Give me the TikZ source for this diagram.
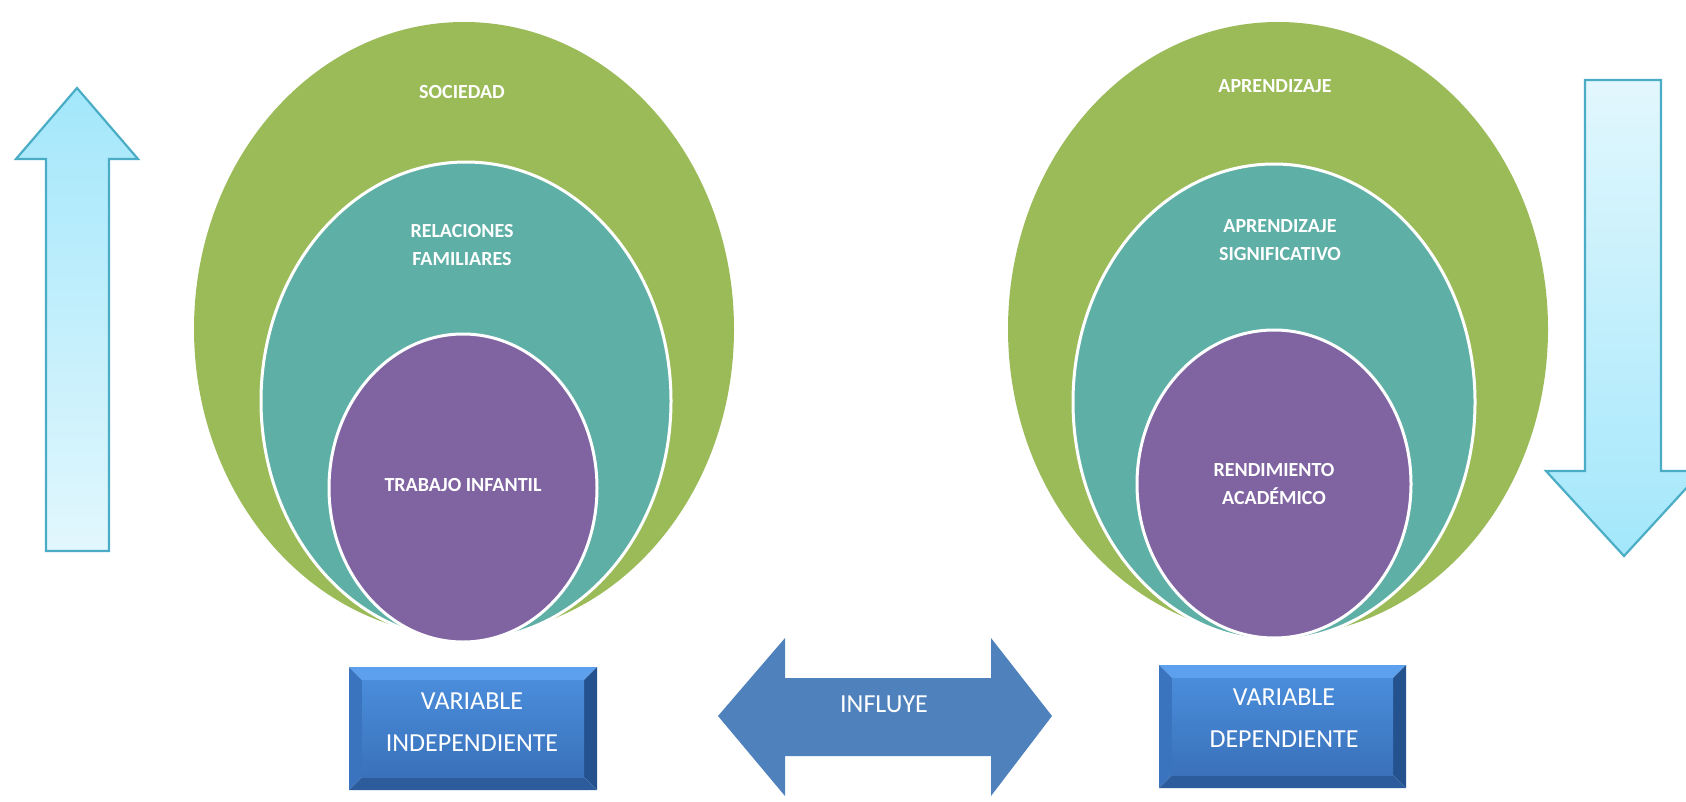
\documentclass[tikz,border=0pt]{standalone}
\usepackage{fontspec}
\setmainfont{Carlito}
\usepackage{xcolor}
\usepackage{tikz}
\definecolor{vennGreen}{HTML}{9BBB59}
\definecolor{vennTeal}{HTML}{5EAFA6}
\definecolor{vennPurple}{HTML}{8064A2}
\definecolor{arrowEdge}{HTML}{4BACC6}
\definecolor{arrowDark}{HTML}{A3E7FB}
\definecolor{arrowLight}{HTML}{E2F7FD}
\definecolor{bevelTop}{HTML}{5CA0EE}
\definecolor{bevelLeft}{HTML}{3B74BE}
\definecolor{bevelRight}{HTML}{24528F}
\definecolor{bevelBottom}{HTML}{2C5C9C}
\definecolor{faceTop}{HTML}{4A8DDB}
\definecolor{faceBottom}{HTML}{3A71BA}
\definecolor{influyeBlue}{HTML}{4F81BD}

\begin{document}
\begin{tikzpicture}[x=0.5pt,y=0.5pt,
	vennlabel/.style={text=white,font=\bfseries\fontsize{10}{14}\selectfont,align=center},
	boxlabel/.style={text=white,font=\fontsize{13}{21}\selectfont,align=center},
	ring/.style={draw=white,line width=1.5pt},
	lightarrow/.style={draw=arrowEdge,line width=1.1pt}]
		\tikzstyle{every node}+=[inner sep=0pt]
		\useasboundingbox (0,0) rectangle (1686,-802);
		\clip (0,0) rectangle (1686,-802);
		% flecha de subida
		\path [lightarrow,top color=arrowDark,bottom color=arrowLight] (77,-88) -- (138,-159) -- (109,-159) -- (109,-551) -- (46,-551) -- (46,-159) -- (16,-159) -- cycle;
		% circulos de la variable independiente
		\fill [vennGreen] (464,-329) ellipse (270 and 307);
		\fill [vennTeal,ring] (466,-401) ellipse (205 and 239);
		\fill [vennPurple,ring] (463,-488) ellipse (134 and 154);
		\node [vennlabel] (sociedad) at (462,-92) {SOCIEDAD};
		\node [vennlabel] (relaciones) at (462,-245) {RELACIONES\\FAMILIARES};
		\node [vennlabel] (trabajo) at (463,-485) {TRABAJO INFANTIL};
		% circulos de la variable dependiente
		\fill [vennGreen] (1278,-329) ellipse (270 and 307);
		\fill [vennTeal,ring] (1274,-402) ellipse (201 and 238);
		\fill [vennPurple,ring] (1274,-484) ellipse (137 and 154);
		\node [vennlabel] (aprendizaje) at (1275,-86) {APRENDIZAJE};
		\node [vennlabel] (significativo) at (1280,-240) {APRENDIZAJE\\SIGNIFICATIVO};
		\node [vennlabel] (rendimiento) at (1274,-484) {RENDIMIENTO\\ACADÉMICO};
		% flecha de bajada
		\path [lightarrow,top color=arrowLight,bottom color=arrowDark] (1624,-556) -- (1702,-471) -- (1661,-471) -- (1661,-80) -- (1585,-80) -- (1585,-471) -- (1546,-471) -- cycle;
		% caja independiente
		\fill [bevelTop] (349,-667) -- (597,-667) -- (584,-680) -- (362,-680) -- cycle;
		\fill [bevelLeft] (349,-667) -- (362,-680) -- (362,-777) -- (349,-790) -- cycle;
		\fill [bevelRight] (597,-667) -- (597,-790) -- (584,-777) -- (584,-680) -- cycle;
		\fill [bevelBottom] (349,-790) -- (597,-790) -- (584,-777) -- (362,-777) -- cycle;
		\shade [top color=faceTop,bottom color=faceBottom] (362,-680) rectangle (584,-777);
		\node [boxlabel] (independiente) at (472,-722) {VARIABLE\\INDEPENDIENTE};
		% flecha doble
		\fill [influyeBlue] (718,-716) -- (785,-638) -- (785,-678) -- (991,-678) -- (991,-638) -- (1052,-716) -- (991,-796) -- (991,-756) -- (785,-756) -- (785,-796) -- cycle;
		\node [boxlabel] (influye) at (884,-704) {INFLUYE};
		% caja dependiente
		\fill [bevelTop] (1159,-665) -- (1406,-665) -- (1393,-678) -- (1172,-678) -- cycle;
		\fill [bevelLeft] (1159,-665) -- (1172,-678) -- (1172,-775) -- (1159,-788) -- cycle;
		\fill [bevelRight] (1406,-665) -- (1406,-788) -- (1393,-775) -- (1393,-678) -- cycle;
		\fill [bevelBottom] (1159,-788) -- (1406,-788) -- (1393,-775) -- (1172,-775) -- cycle;
		\shade [top color=faceTop,bottom color=faceBottom] (1172,-678) rectangle (1393,-775);
		\node [boxlabel] (dependiente) at (1284,-718) {VARIABLE\\DEPENDIENTE};
\end{tikzpicture}
\end{document}
